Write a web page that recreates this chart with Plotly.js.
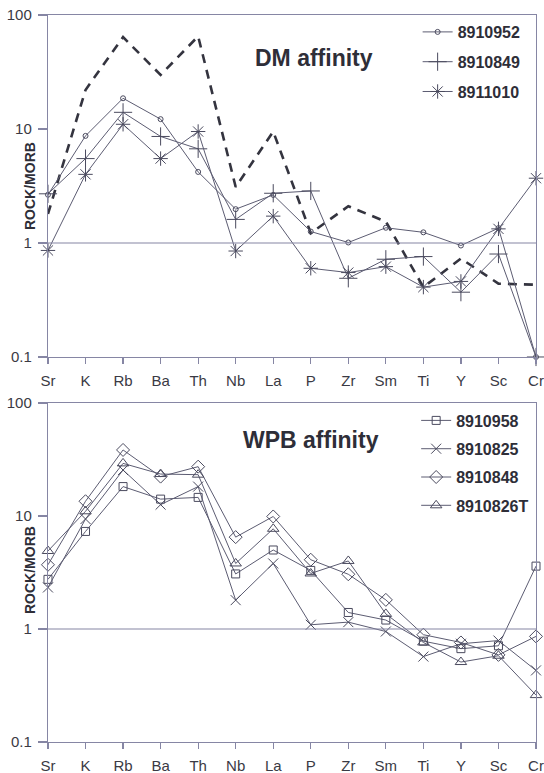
<!DOCTYPE html>
<html>
<head>
<meta charset="utf-8">
<script src="https://cdn.plot.ly/plotly-3.0.1.min.js"></script>
<style>
  html, body { margin: 0; padding: 0; background: #fff; }
  #plot { width: 544px; height: 773px; }
</style>
</head>
<body>
<div id="plot"></div>
<script>
// Element order along the x axis (MORB-normalised spider diagram)
const elements = ['Sr', 'K', 'Rb', 'Ba', 'Th', 'Nb', 'La', 'P', 'Zr', 'Sm', 'Ti', 'Y', 'Sc', 'Cr'];

// Upper panel: DM affinity samples
const s8910952 = [2.65, 8.7, 18.6, 12.2, 4.2, 1.98, 2.64, 1.26, 1.01, 1.36, 1.24, 0.95, 1.35, 0.1];
const s8910849 = [2.7, 5.5, 14.0, 8.6, 6.7, 1.61, 2.73, 2.86, 0.49, 0.72, 0.76, 0.37, 0.8, 0.1];
const s8911010 = [0.86, 4.0, 11.0, 5.5, 9.5, 0.85, 1.72, 0.6, 0.55, 0.62, 0.41, 0.46, 1.33, 3.7];
// Dashed reference pattern in the upper panel
const dmReference = [1.8, 22, 64, 29.8, 65, 3.1, 9.5, 1.22, 2.1, 1.54, 0.41, 0.73, 0.44, 0.43];

// Lower panel: WPB affinity samples
const s8910958 = [2.75, 7.3, 18.2, 14.1, 14.6, 3.07, 5.0, 3.3, 1.4, 1.2, 0.78, 0.67, 0.71, 3.6];
const s8910825 = [2.33, 9.4, 25.5, 12.6, 18.2, 1.8, 3.8, 1.09, 1.15, 0.95, 0.57, 0.74, 0.79, 0.43];
const s8910848 = [3.7, 13.5, 38.4, 22.3, 27.3, 6.5, 9.9, 4.1, 3.05, 1.81, 0.89, 0.76, 0.59, 0.86];
const s8910826T = [4.9, 11.0, 29.2, 23.5, 23.2, 3.8, 7.7, 3.1, 4.0, 1.36, 0.76, 0.51, 0.58, 0.26];

// Normalisation reference level (rock = MORB)
const morbLevel = 1;

const yTicks = [0.1, 1, 10, 100];
const yTickText = ['0.1', '1', '10', '100'];

const FONT = 'Liberation Sans, Arial, sans-serif';
const LINE = '#5c5c72';
const FRAME = '#8686a4';
const TEXT = '#3a3a44';
const DARK = '#2e2e38';

function sample(name, values, symbol, size, xa, ya, legendName) {
  return {
    type: 'scatter', mode: 'lines+markers', name: name,
    x: elements, y: values, xaxis: xa, yaxis: ya,
    legend: legendName, legendgroup: name,
    line: { color: LINE, width: 1 },
    marker: { symbol: symbol, size: size, color: '#4a4a5e', line: { color: '#4a4a5e', width: 1 } },
    cliponaxis: false
  };
}

const traces = [
  {
    type: 'scatter', mode: 'lines', x: elements, y: dmReference,
    xaxis: 'x', yaxis: 'y', showlegend: false, hoverinfo: 'skip',
    line: { color: '#34343f', width: 2.6, dash: '9px,7px' }
  },
  sample('8910952', s8910952, 'circle-open', 5, 'x', 'y', 'legend'),
  sample('8910849', s8910849, 'cross-thin-open', 13, 'x', 'y', 'legend'),
  sample('8911010', s8911010, 'asterisk-open', 12, 'x', 'y', 'legend'),
  sample('8910958', s8910958, 'square-open', 8, 'x2', 'y2', 'legend2'),
  sample('8910825', s8910825, 'x-thin-open', 10, 'x2', 'y2', 'legend2'),
  sample('8910848', s8910848, 'diamond-open', 10, 'x2', 'y2', 'legend2'),
  sample('8910826T', s8910826T, 'triangle-up-open', 10, 'x2', 'y2', 'legend2')
];

function xAxis(anchor, domain) {
  return {
    type: 'category', categoryorder: 'array', categoryarray: elements,
    range: [0, elements.length - 1], domain: domain, anchor: anchor,
    showline: true, mirror: true, linecolor: FRAME, linewidth: 1.2,
    ticks: 'outside', ticklen: 6, tickcolor: FRAME, tickwidth: 1.2,
    showgrid: false, zeroline: false, ticklabelstandoff: 4,
    tickfont: { family: FONT, size: 15, color: TEXT }
  };
}
function yAxis(anchor, domain) {
  return {
    type: 'log', range: [-1, 2], domain: domain, anchor: anchor,
    tickvals: yTicks, ticktext: yTickText,
    showline: true, mirror: true, linecolor: FRAME, linewidth: 1.2,
    ticks: 'outside', ticklen: 9, tickcolor: FRAME, tickwidth: 1.2,
    showgrid: false, zeroline: false, ticklabelstandoff: 3,
    tickfont: { family: FONT, size: 15, color: TEXT }
  };
}

const legendBase = {
  xanchor: 'left', yanchor: 'top', bgcolor: 'rgba(0,0,0,0)',
  font: { family: FONT, size: 16, color: DARK, weight: 'bold' },
  itemwidth: 30, traceorder: 'grouped'
};

const layout = {
  width: 544, height: 773,
  margin: { l: 0, r: 0, t: 0, b: 0 },
  paper_bgcolor: '#fff', plot_bgcolor: '#fff',
  showlegend: true,
  xaxis: xAxis('y', [0.0882, 0.9853]),
  yaxis: yAxis('x', [0.5382, 0.9806]),
  xaxis2: xAxis('y2', [0.0882, 0.9853]),
  yaxis2: yAxis('x2', [0.0401, 0.4787]),
  legend: Object.assign({}, legendBase, { x: 0.7677, y: 0.9806, tracegroupgap: 6 }),
  legend2: Object.assign({}, legendBase, { x: 0.765, y: 0.478, tracegroupgap: 4.5 }),
  shapes: [
    { type: 'line', xref: 'x domain', yref: 'y', x0: 0, x1: 1, y0: morbLevel, y1: morbLevel,
      line: { color: FRAME, width: 1.2 } },
    { type: 'line', xref: 'x2 domain', yref: 'y2', x0: 0, x1: 1, y0: morbLevel, y1: morbLevel,
      line: { color: FRAME, width: 1.2 } }
  ],
  annotations: [
    { text: 'DM affinity', xref: 'paper', yref: 'paper', x: 314 / 544, y: 1 - 58 / 773,
      xanchor: 'center', yanchor: 'middle',
      showarrow: false, font: { family: FONT, size: 23, color: DARK, weight: 'bold' } },
    { text: 'WPB affinity', xref: 'paper', yref: 'paper', x: 311 / 544, y: 1 - 440 / 773,
      xanchor: 'center', yanchor: 'middle',
      showarrow: false, font: { family: FONT, size: 23, color: DARK, weight: 'bold' } },
    { text: 'ROCK/MORB', xref: 'paper', yref: 'paper', x: 30 / 544, y: 1 - 186 / 773,
      xanchor: 'center', yanchor: 'middle',
      textangle: -90, showarrow: false, font: { family: FONT, size: 14, color: DARK, weight: 'bold' } },
    { text: 'ROCK/MORB', xref: 'paper', yref: 'paper', x: 30 / 544, y: 1 - 570 / 773,
      xanchor: 'center', yanchor: 'middle',
      textangle: -90, showarrow: false, font: { family: FONT, size: 14, color: DARK, weight: 'bold' } }
  ]
};

Plotly.newPlot('plot', traces, layout, { staticPlot: true, displayModeBar: false });
</script>
</body>
</html>
